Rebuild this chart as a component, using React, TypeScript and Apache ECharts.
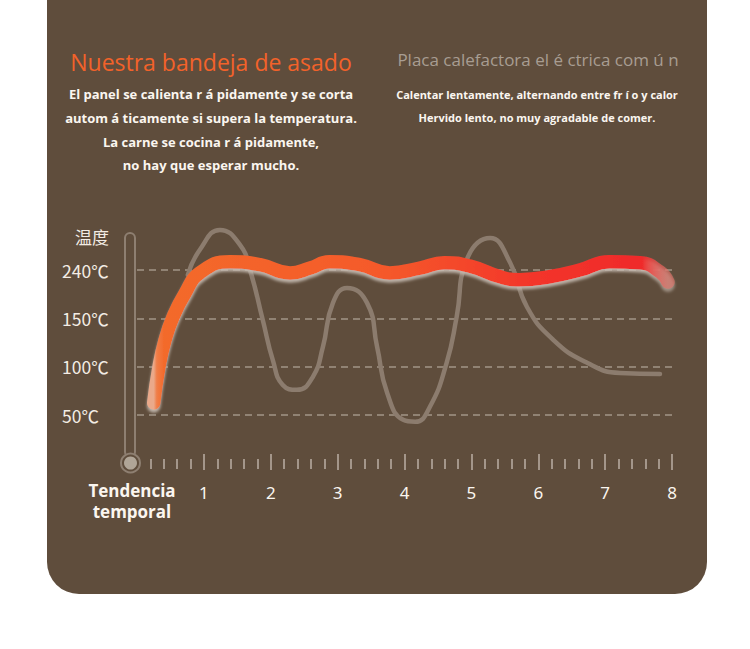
import React, { useEffect, useRef } from "react";
import * as echarts from "echarts";

// ---- data ----
const xLabels = ["1", "2", "3", "4", "5", "6", "7", "8"];
const yTickLabels = ["50℃", "100℃", "150℃", "240℃"]; // positions 1..4 on the scale

// Our grill tray (position on the temperature scale)
const trayX = [0.25, 0.33, 0.42, 0.54, 0.72, 0.94, 1.39, 1.84, 2.29, 2.59, 2.88, 3.33, 3.78, 4.23, 4.6, 4.98, 5.43, 5.72, 6.17, 6.62, 7.07, 7.52, 7.82, 7.94];
const trayY = [1.25, 2.0, 2.55, 3.03, 3.52, 3.94, 4.17, 4.11, 3.94, 4.04, 4.17, 4.11, 3.94, 4.04, 4.15, 4.08, 3.86, 3.8, 3.86, 4.0, 4.17, 4.15, 3.96, 3.75];

// Common electric plate
const plateX = [0.76, 0.94, 1.24, 1.54, 1.69, 1.88, 2.03, 2.18, 2.39, 2.63, 2.78, 2.93, 3.14, 3.44, 3.59, 3.74, 3.98, 4.16, 4.38, 4.63, 4.78, 4.93, 5.28, 5.58, 5.83, 6.22, 6.73, 7.22, 7.82];
const plateY = [3.9, 4.42, 4.83, 4.52, 4.0, 2.97, 2.14, 1.62, 1.52, 1.79, 2.41, 3.32, 3.63, 3.32, 2.41, 1.46, 0.9, 0.86, 1.17, 2.08, 3.03, 4.21, 4.66, 4.15, 3.24, 2.56, 2.08, 1.87, 1.85];

const titleLeft = "Nuestra bandeja de asado";
const textLeft = [
  "El panel se calienta r á pidamente y se corta",
  "autom á ticamente si supera la temperatura.",
  "La carne se cocina r á pidamente,",
  "no hay que esperar mucho.",
];
const titleRight = "Placa calefactora el é ctrica com ú n";
const textRight = [
  "Calentar lentamente, alternando entre fr í o y calor",
  "Hervido lento, no muy agradable de comer.",
];

const majorTicks = xLabels.map((l) => Number(l));
const minorTicks: number[] = [];
for (let i = 1; i <= 40; i++) if (i % 5 !== 0) minorTicks.push(i / 5);

const BG = "#5f4d3c";
const FONT = "'Open Sans', sans-serif";

export default function App() {
  const ref = useRef<HTMLDivElement>(null);
  useEffect(() => {
    const chart = echarts.init(ref.current!, null, { renderer: "svg" });
    const tray = trayX.map((x, i) => [x, trayY[i]]);
    const plate = plateX.map((x, i) => [x, plateY[i]]);
    const graphic: any[] = [
      { type: "rect", z: -10, shape: { x: 47, y: -40, width: 660, height: 634, r: 32 }, style: { fill: BG } },
      {
        type: "text", x: 211, y: 62,
        style: { text: titleLeft, fill: "#f2622a", font: `500 23px ${FONT}`, align: "center", verticalAlign: "middle" },
      },
      ...textLeft.map((t, i) => ({
        type: "text", x: 211, y: [94, 118, 142, 165][i],
        style: { text: t, fill: "#fbf6f0", font: `bold 13px ${FONT}`, align: "center", verticalAlign: "middle" },
      })),
      {
        type: "text", x: 538, y: 59,
        style: { text: titleRight, fill: "#a89d92", font: `17px ${FONT}`, align: "center", verticalAlign: "middle" },
      },
      ...textRight.map((t, i) => ({
        type: "text", x: 537, y: [94, 117][i],
        style: { text: t, fill: "#fbf6f0", font: `bold 11px ${FONT}`, align: "center", verticalAlign: "middle" },
      })),
      {
        type: "text", x: 92, y: 236,
        style: { text: "温度", fill: "#f3ece4", font: "17px 'Noto Sans CJK SC'", align: "center", verticalAlign: "middle" },
      },
      {
        type: "text", x: 132, y: 501,
        style: { text: "Tendencia\ntemporal", fill: "#fbf6f0", font: `bold 17px ${FONT}`, lineHeight: 21, align: "center", verticalAlign: "middle" },
      },
      {
        type: "rect", shape: { x: 125, y: 233, width: 10, height: 224, r: 5 },
        style: { fill: BG, stroke: "#8e7f71", lineWidth: 2 },
      },
      { type: "circle", shape: { cx: 130.5, cy: 463, r: 9.5 }, style: { fill: BG, stroke: "#8e7f71", lineWidth: 2 } },
      { type: "circle", shape: { cx: 130.5, cy: 463, r: 6.5 }, style: { fill: "#b0a597" } },
    ];
    chart.setOption({
      animation: false,
      backgroundColor: "#ffffff",
      graphic,
      grid: { left: 137, right: 78, top: 270, bottom: 234, containLabel: false },
      xAxis: [
        {
          type: "value", min: 0, max: 8, offset: 39,
          axisLine: { show: false },
          splitLine: { show: false },
          axisTick: { show: true, customValues: majorTicks, length: 16, lineStyle: { color: "#a4968a", width: 2 } },
          axisLabel: { show: true, customValues: majorTicks, margin: 30, color: "#fbf6f0", fontSize: 17, fontFamily: "'Noto Sans'" },
        },
        {
          type: "value", min: 0, max: 8, offset: 44, position: "bottom",
          axisLine: { show: false },
          splitLine: { show: false },
          axisTick: { show: true, customValues: minorTicks, length: 10, lineStyle: { color: "#a4968a", width: 2 } },
          axisLabel: { show: false },
        },
      ],
      yAxis: {
        type: "value", min: 1, max: 4, interval: 1,
        axisLine: { show: false },
        axisTick: { show: false },
        splitLine: { show: true, lineStyle: { color: "#a39587", type: [7, 5], width: 1.5 } },
        axisLabel: {
          margin: 75, align: "left", color: "#f3ece4", fontSize: 17.5, fontFamily: "'Noto Sans CJK SC'",
          formatter: (v: number) => yTickLabels[Math.round(v) - 1] ?? "",
        },
      },
      series: [
        {
          type: "line", name: titleRight, data: plate, smooth: 0.5, showSymbol: false, clip: false, z: 2,
          lineStyle: { color: "#8c7c6e", width: 4.5, cap: "round" },
        },
        {
          type: "line", name: titleLeft, data: tray, smooth: 0.5, showSymbol: false, clip: false, z: 3,
          lineStyle: {
            width: 13.5, cap: "round",
            shadowColor: "rgba(200,190,180,0.9)", shadowBlur: 3, shadowOffsetY: 3,
            color: new echarts.graphic.LinearGradient(0, 0, 1, 0, [
              { offset: 0, color: "#eaa98a" },
              { offset: 0.006, color: "#f07d48" },
              { offset: 0.02, color: "#f36a2a" },
              { offset: 0.45, color: "#f5592a" },
              { offset: 0.75, color: "#f3342a" },
              { offset: 0.95, color: "#ef2a2a" },
              { offset: 1, color: "rgba(225,110,100,0.65)" },
            ]),
          },
        },
      ],
    });
    return () => chart.dispose();
  }, []);
  return <div ref={ref} style={{ position: "fixed", left: 0, top: 0, width: 750, height: 649 }} />;
}
